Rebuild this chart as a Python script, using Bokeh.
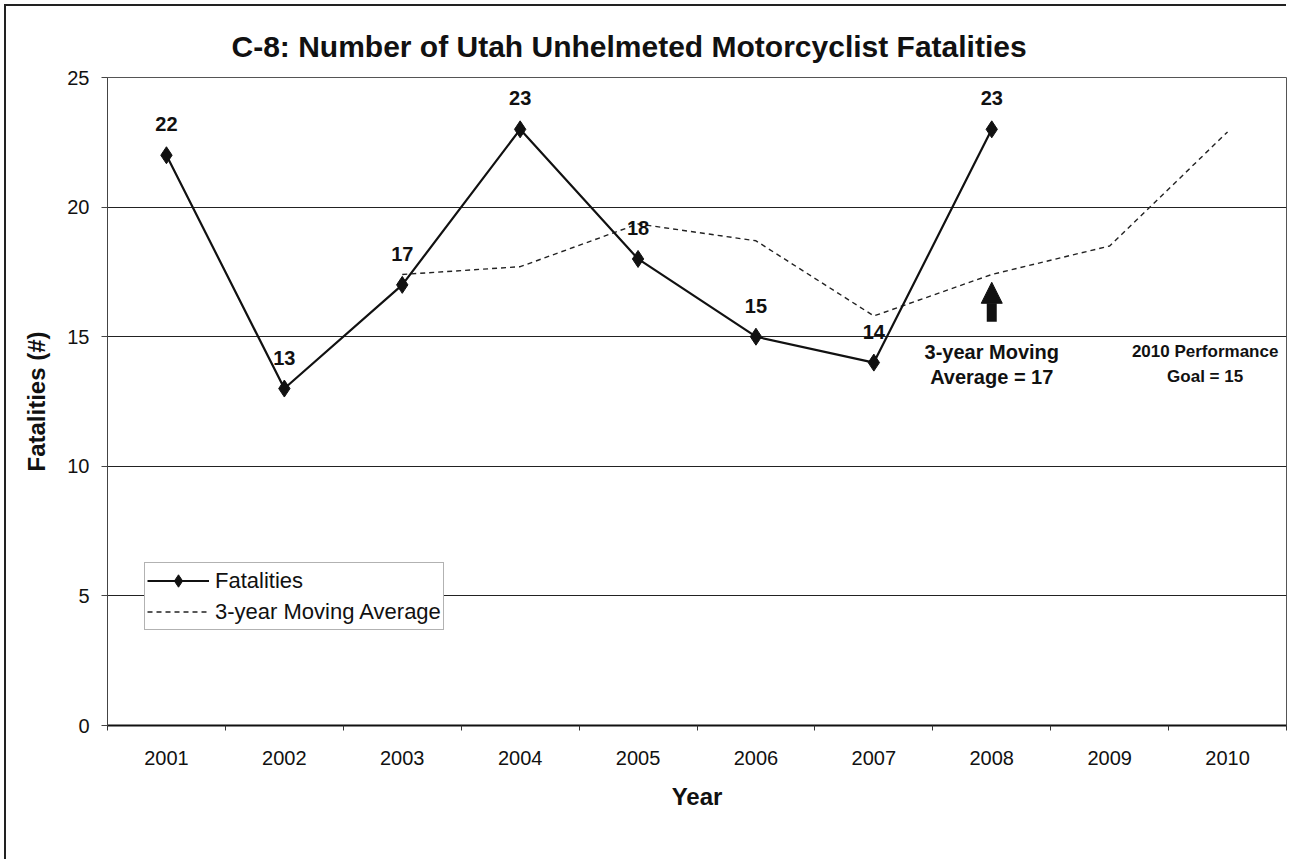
from bokeh.plotting import figure
from bokeh.models import (Range1d, FixedTicker, ColumnDataSource, LabelSet, Label,
                          Arrow, NormalHead, Legend)
from bokeh.core.properties import value
from bokeh.embed import file_html
from bokeh.resources import INLINE

# ---- data ----
years = ["2001", "2002", "2003", "2004", "2005", "2006", "2007", "2008", "2009", "2010"]
fatal_years = ["2001", "2002", "2003", "2004", "2005", "2006", "2007", "2008"]
fatalities = [22, 13, 17, 23, 18, 15, 14, 23]
avg_years = ["2003", "2004", "2005", "2006", "2007", "2008", "2009", "2010"]
moving_avg = [17.4, 17.7, 19.35, 18.7, 15.8, 17.4, 18.5, 22.9]
y_ticks = [0, 5, 10, 15, 20, 25]

FONT = "Liberation Sans"

def xpos(cats):
    return [years.index(c) + 0.5 for c in cats]

p = figure(width=1282, height=855, output_backend="svg", toolbar_location=None,
           x_range=Range1d(0, len(years)), y_range=Range1d(0, 25),
           min_border_left=101, min_border_right=2, min_border_top=71,
           min_border_bottom=136)
p.styles = {"box-shadow": "-2px -2px 0 0 #222", "margin-left": "6px", "margin-top": "6px"}

p.title.text = "C-8: Number of Utah Unhelmeted Motorcyclist Fatalities"
p.title.text_font = FONT
p.title.text_font_size = "30px"
p.title.text_font_style = "bold"
p.title.text_color = "#111"
p.title.align = "left"
p.title.offset = 124
p.title.standoff = 30

# axes
p.xaxis.ticker = FixedTicker(ticks=[i + 0.5 for i in range(len(years))],
                             minor_ticks=list(range(len(years) + 1)))
p.xaxis.major_label_overrides = {i + 0.5: y for i, y in enumerate(years)}
p.xaxis.major_tick_out = 0
p.xaxis.major_tick_in = 0
p.xaxis.minor_tick_out = 5
p.xaxis.minor_tick_in = 0
p.xaxis.axis_line_width = 2
p.xaxis.axis_line_color = "#111"
p.xaxis.minor_tick_line_color = "#333"
p.xaxis.major_label_standoff = 20
p.xaxis.axis_label = "Year"
p.xaxis.axis_label_standoff = 15

p.yaxis.ticker = FixedTicker(ticks=y_ticks)
p.yaxis.major_tick_out = 6
p.yaxis.major_tick_in = 0
p.yaxis.minor_tick_line_color = None
p.yaxis.axis_line_color = "#444"
p.yaxis.major_tick_line_color = "#444"
p.yaxis.major_label_standoff = 12
p.yaxis.axis_label = "Fatalities (#)"
p.yaxis.axis_label_standoff = 14

for ax in (p.xaxis[0], p.yaxis[0]):
    ax.major_label_text_font = FONT
    ax.major_label_text_font_size = "20px"
    ax.major_label_text_color = "#111"
    ax.axis_label_text_font = FONT
    ax.axis_label_text_font_size = "24px"
    ax.axis_label_text_font_style = "bold"
    ax.axis_label_text_color = "#111"

p.xgrid.grid_line_color = None
p.ygrid.ticker = FixedTicker(ticks=y_ticks)
p.ygrid.grid_line_color = "#222"
p.ygrid.grid_line_width = 1.2
p.outline_line_color = "#555"
p.outline_line_width = 1
p.background_fill_color = "white"

# series
fx = xpos(fatal_years)
ax_ = xpos(avg_years)
src = ColumnDataSource(dict(x=fx, y=fatalities, t=[str(v) for v in fatalities]))

r_avg = p.line(ax_, moving_avg, line_color="#222", line_width=1.4, line_dash="5 4")
r_line = p.line("x", "y", source=src, line_color="#111", line_width=2.2)
r_pts = p.scatter("x", "y", source=src, marker="diamond", size=17,
                  fill_color="#111", line_color="#111")

labels = LabelSet(x="x", y="y", text="t", source=src, y_offset=31,
                  text_align="center", text_baseline="middle",
                  text_font=value(FONT), text_font_size=value("20px"),
                  text_font_style="bold", text_color="#111")
p.add_layout(labels)

# annotations
arrow_x = years.index("2008") + 0.5
p.add_layout(Arrow(end=NormalHead(size=21, fill_color="#111", line_color="#111"),
                   x_start=arrow_x, y_start=15.58, x_end=arrow_x, y_end=17.1,
                   line_width=10, line_color="#111"))
for txt, yy in (("3-year Moving", 14.42), ("Average = 17", 13.46)):
    p.add_layout(Label(x=arrow_x, y=yy, text=txt, text_align="center",
                       text_baseline="middle", text_font=FONT,
                       text_font_size="20px", text_font_style="bold",
                       text_color="#111"))
goal_x = years.index("2010") + 0.31
for txt, yy in (("2010 Performance", 14.42), ("Goal = 15", 13.46)):
    p.add_layout(Label(x=goal_x, y=yy, text=txt, text_align="center",
                       text_baseline="middle", text_font=FONT,
                       text_font_size="17px", text_font_style="bold",
                       text_color="#111"))

legend = Legend(items=[("Fatalities", [r_line, r_pts]),
                       ("3-year Moving Average", [r_avg])],
                location=(37, 95), orientation="vertical")
legend.label_text_font = FONT
legend.label_text_font_size = "22px"
legend.label_text_color = "#111"
legend.glyph_width = 62
legend.glyph_height = 31
legend.label_height = 31
legend.label_standoff = 6
legend.spacing = 0
legend.padding = 2
legend.margin = 0
legend.border_line_color = "#666"
legend.border_line_width = 1
legend.background_fill_color = "white"
legend.background_fill_alpha = 1
p.add_layout(legend, "center")

open("out.html", "w").write(file_html(p, INLINE))
